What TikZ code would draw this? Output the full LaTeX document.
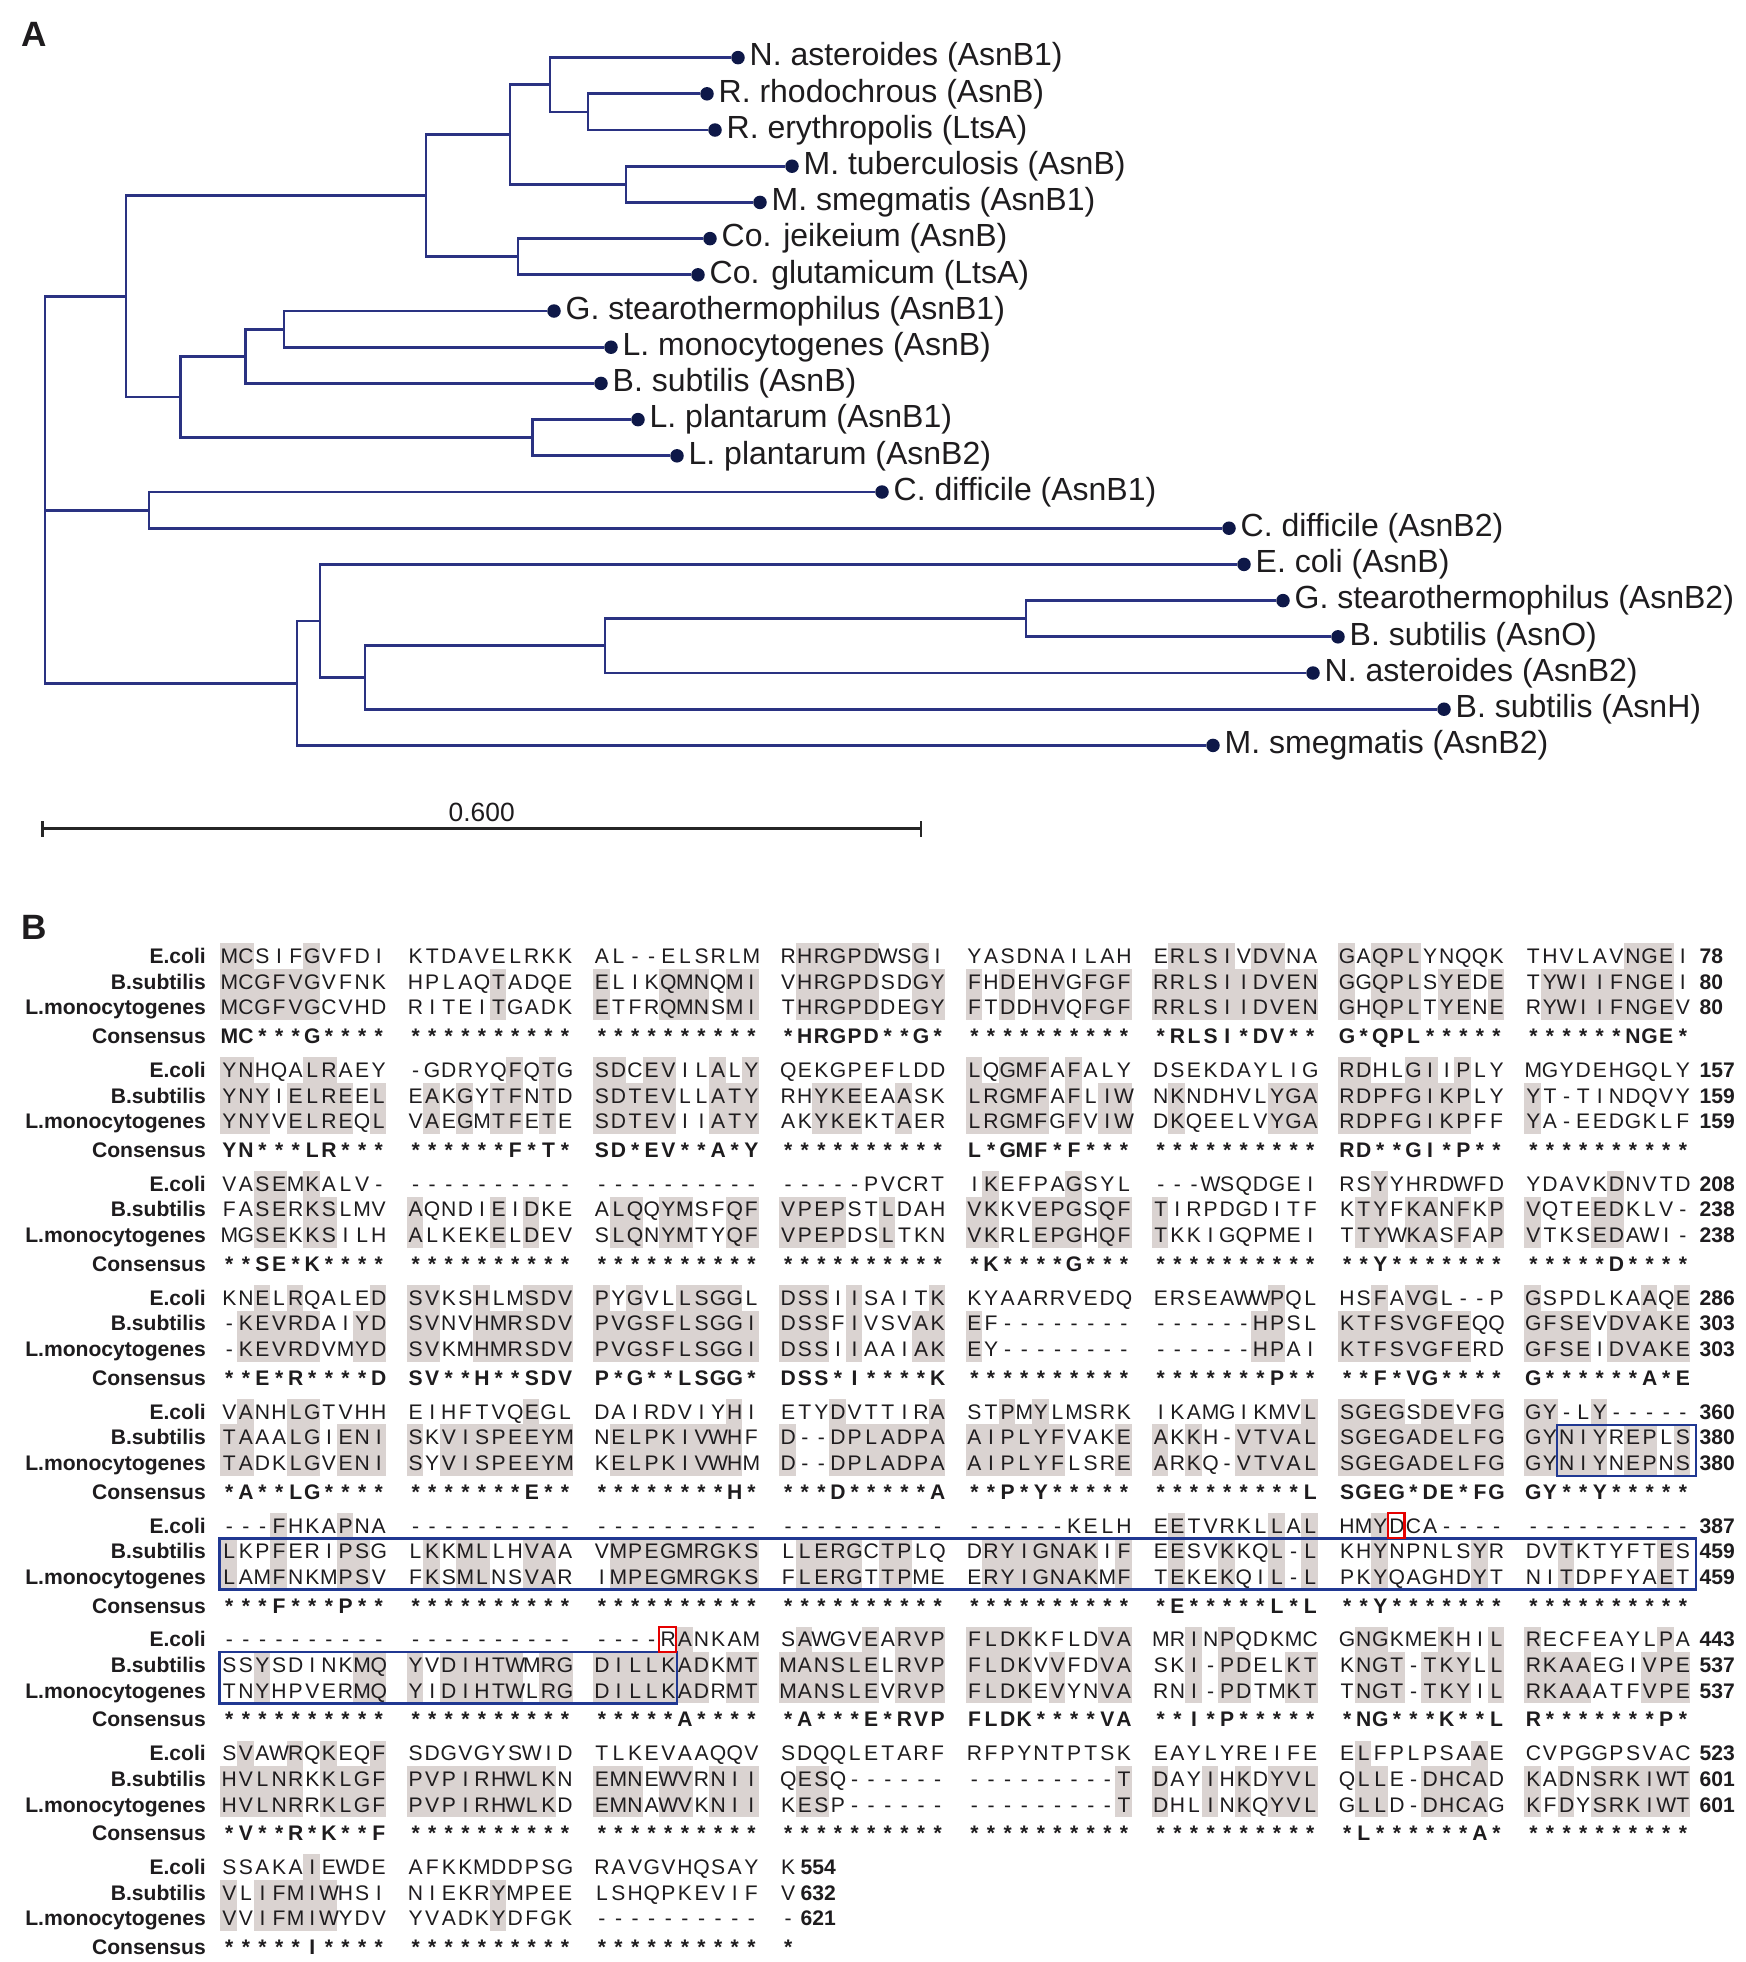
\documentclass[tikz,border=0pt]{standalone}
\usepackage{fontspec}
\setmainfont{Liberation Sans}
\usepackage{graphicx}
\usetikzlibrary{positioning}

\definecolor{treeblue}{RGB}{42,50,130}
\definecolor{dotblue}{RGB}{14,24,72}
\definecolor{shadegrey}{RGB}{218,211,209}
\definecolor{boxblue}{RGB}{32,56,146}
\definecolor{ink}{RGB}{30,28,30}

\newlength\respitch
\setlength\respitch{0.166cm}

% one residue per fixed column
\def\spreadaux#1#2\endspread{\makebox[\respitch][c]{#1}%
  \if\relax\detokenize{#2}\relax\let\spnext\relax
  \else\def\spnext{\spreadaux#2\endspread}\fi\spnext}
\newcommand\spreadseq[1]{\spreadaux#1\endspread}

% grey columns: B/L identical, E.coli too when all three agree
\def\dashtok{-}
\def\septok{,}
\def\shadeaux#1#2\endA#3#4\endB#5#6\endC{%
  \def\chE{#1}\def\chB{#3}\def\chL{#5}%
  \ifx\chE\septok
    \pgfmathsetmacro\shx{\shx+20.3}%
  \else
    \ifx\chB\chL\ifx\chB\dashtok\else
      \fill[shadegrey] (\shx,\shy+12.8) rectangle ++(16.6,51.2);
      \ifx\chE\chB\fill[shadegrey] (\shx,\shy-12.8) rectangle ++(16.6,25.6);\fi
    \fi\fi
    \pgfmathsetmacro\shx{\shx+16.6}%
  \fi
  \if\relax\detokenize{#2}\relax\let\shnext\relax
  \else\def\shnext{\shadeaux#2\endA#4\endB#6\endC}\fi\shnext}

\newcommand\seqrow[4]{%
  \foreach \grp [count=\g from 0] in {#3}{%
    \node[#2] (#4\g) at ({220.3+186.3*\g},#1) {\expandafter\spreadseq\expandafter{\grp}};}}

\newcommand\alnblock[9]{%
  \pgfmathsetmacro\by{956+113.9*#1}%
  \def\shx{220.3}\let\shy\by
  \shadeaux#2\endA#3\endB#4\endC
  \seqrow{\by}{res}{#2}{e#1g}
  \seqrow{\by+25.6}{res}{#3}{b#1g}
  \seqrow{\by+51.2}{res}{#4}{l#1g}
  \seqrow{\by+80}{cons}{#5}{c#1g}
  \node[seqname] (ename#1) at (206.5,\by) {E.coli};
  \node[seqname] (bname#1) at (206.5,\by+25.6) {B.subtilis};
  \node[seqname] (lname#1) at (206.5,\by+51.2) {L.monocytogenes};
  \node[seqname] (cname#1) at (206.5,\by+80) {Consensus};
  \node[seqnum] (enum#1) at (#9,\by) {#6};
  \node[seqnum] (bnum#1) at (#9,\by+25.6) {#7};
  \node[seqnum] (lnum#1) at (#9,\by+51.2) {#8};
}

\begin{document}
\begin{tikzpicture}[x=0.01cm, y=-0.01cm,
  branch/.style={treeblue, line width=0.8pt},
  leaf/.style={circle, fill=dotblue, inner sep=0pt, minimum size=0.135cm},
  leaflab/.style={inner sep=0pt, text=ink, font=\fontsize{9.1}{10}\selectfont},
  res/.style={anchor=west, inner sep=0pt, text=ink, font=\fontsize{6}{7}\selectfont, text height=4.3pt, text depth=0pt},
  cons/.style={res, font=\fontsize{6}{7}\selectfont\bfseries},
  seqname/.style={anchor=east, inner sep=0pt, text=ink, font=\fontsize{6}{7}\selectfont\bfseries, text height=4.3pt, text depth=0pt},
  seqnum/.style={anchor=west, inner sep=0pt, text=ink, font=\fontsize{6}{7}\selectfont\bfseries, text height=4.3pt, text depth=0pt},
  panel/.style={inner sep=0pt, text=ink, font=\fontsize{10}{12}\selectfont\bfseries},
  scalebar/.style={black!85, line width=0.85pt},
  scalelab/.style={inner sep=0pt, text=ink, font=\fontsize{7.5}{9}\selectfont},
  bluebox/.style={draw=boxblue, line width=0.7pt},
  redbox/.style={draw=red!90!black, line width=0.6pt}]

\fill[white] (0,0) rectangle (1746,1962);
\useasboundingbox (0,0) rectangle (1746,1962);

\node[panel] (pa) at (34,34) {A};
\node[panel] (pb) at (34,927) {B};

\coordinate (root) at (45,510.1);
\coordinate (top) at (126,296.3);
\coordinate (cdf) at (149,510.1);
\coordinate (bot) at (297,683.2);
\coordinate (act) at (426,195.6);
\coordinate (firm) at (180.5,397);
\coordinate (nrm) at (510,134.5);
\coordinate (nrh) at (550,84.75);
\coordinate (nrr) at (588,111.9);
\coordinate (nmy) at (626,184.3);
\coordinate (nco) at (518,256.7);
\coordinate (nbs) at (245.5,356.25);
\coordinate (ngl) at (284,329.1);
\coordinate (nlp) at (532.5,437.7);
\coordinate (nec) at (320,621);
\coordinate (nah) at (365,677.5);
\coordinate (nao) at (605,645.85);
\coordinate (ngs) at (1026,618.7);

\node[leaf] (nast1) at (738,57.6) {};
\node[leaf] (rrho) at (707,93.8) {};
\node[leaf] (rery) at (715,130) {};
\node[leaf] (mtub) at (792,166.2) {};
\node[leaf] (msmg1) at (760,202.4) {};
\node[leaf] (cjei) at (710,238.6) {};
\node[leaf] (cglu) at (698,274.8) {};
\node[leaf] (gst1) at (554,311) {};
\node[leaf] (lmon) at (611,347.2) {};
\node[leaf] (bsubB) at (601,383.4) {};
\node[leaf] (lpl1) at (638,419.6) {};
\node[leaf] (lpl2) at (677,455.8) {};
\node[leaf] (cdif1) at (882,492) {};
\node[leaf] (cdif2) at (1229,528.2) {};
\node[leaf] (ecol) at (1244,564.4) {};
\node[leaf] (gst2) at (1283,600.6) {};
\node[leaf] (bsubO) at (1338,636.8) {};
\node[leaf] (nast2) at (1313,673) {};
\node[leaf] (bsubH) at (1444,709.2) {};
\node[leaf] (msmg2) at (1213,745.4) {};

\node[leaflab, right=1pt of nast1] (tnast1) {N. asteroides (AsnB1)};
\node[leaflab, right=1pt of rrho] (trrho) {R. rhodochrous (AsnB)};
\node[leaflab, right=1pt of rery] (trery) {R. erythropolis (LtsA)};
\node[leaflab, right=1pt of mtub] (tmtub) {M. tuberculosis (AsnB)};
\node[leaflab, right=1pt of msmg1] (tmsmg1) {M. smegmatis (AsnB1)};
\node[leaflab, right=1pt of cjei] (tcjei) {Co. jeikeium (AsnB)};
\node[leaflab, right=1pt of cglu] (tcglu) {Co. glutamicum (LtsA)};
\node[leaflab, right=1pt of gst1] (tgst1) {G. stearothermophilus (AsnB1)};
\node[leaflab, right=1pt of lmon] (tlmon) {L. monocytogenes (AsnB)};
\node[leaflab, right=1pt of bsubB] (tbsubB) {B. subtilis (AsnB)};
\node[leaflab, right=1pt of lpl1] (tlpl1) {L. plantarum (AsnB1)};
\node[leaflab, right=1pt of lpl2] (tlpl2) {L. plantarum (AsnB2)};
\node[leaflab, right=1pt of cdif1] (tcdif1) {C. difficile (AsnB1)};
\node[leaflab, right=1pt of cdif2] (tcdif2) {C. difficile (AsnB2)};
\node[leaflab, right=1pt of ecol] (tecol) {E. coli (AsnB)};
\node[leaflab, right=1pt of gst2] (tgst2) {G. stearothermophilus (AsnB2)};
\node[leaflab, right=1pt of bsubO] (tbsubO) {B. subtilis (AsnO)};
\node[leaflab, right=1pt of nast2] (tnast2) {N. asteroides (AsnB2)};
\node[leaflab, right=1pt of bsubH] (tbsubH) {B. subtilis (AsnH)};
\node[leaflab, right=1pt of msmg2] (tmsmg2) {M. smegmatis (AsnB2)};

\draw[branch] (root) |- (top);
\draw[branch] (root) |- (cdf);
\draw[branch] (root) |- (bot);
\draw[branch] (top) |- (act);
\draw[branch] (top) |- (firm);
\draw[branch] (act) |- (nrm);
\draw[branch] (act) |- (nco);
\draw[branch] (nrm) |- (nrh);
\draw[branch] (nrm) |- (nmy);
\draw[branch] (nrh) |- (nast1);
\draw[branch] (nrh) |- (nrr);
\draw[branch] (nrr) |- (rrho);
\draw[branch] (nrr) |- (rery);
\draw[branch] (nmy) |- (mtub);
\draw[branch] (nmy) |- (msmg1);
\draw[branch] (nco) |- (cjei);
\draw[branch] (nco) |- (cglu);
\draw[branch] (firm) |- (nbs);
\draw[branch] (firm) |- (nlp);
\draw[branch] (nbs) |- (ngl);
\draw[branch] (nbs) |- (bsubB);
\draw[branch] (ngl) |- (gst1);
\draw[branch] (ngl) |- (lmon);
\draw[branch] (nlp) |- (lpl1);
\draw[branch] (nlp) |- (lpl2);
\draw[branch] (cdf) |- (cdif1);
\draw[branch] (cdf) |- (cdif2);
\draw[branch] (bot) |- (nec);
\draw[branch] (bot) |- (msmg2);
\draw[branch] (nec) |- (ecol);
\draw[branch] (nec) |- (nah);
\draw[branch] (nah) |- (nao);
\draw[branch] (nah) |- (bsubH);
\draw[branch] (nao) |- (ngs);
\draw[branch] (nao) |- (nast2);
\draw[branch] (ngs) |- (gst2);
\draw[branch] (ngs) |- (bsubO);

\coordinate (sbl) at (42.5,828.5);
\coordinate (sbr) at (921,828.5);
\draw[scalebar] (sbl) -- (sbr);
\draw[scalebar] ([yshift=-0.08cm]sbl) -- ([yshift=0.08cm]sbl);
\draw[scalebar] ([yshift=-0.08cm]sbr) -- ([yshift=0.08cm]sbr);
\node[scalelab, anchor=south] (sbtxt) at (481.75,822) {0.600};

\alnblock{0}
 {MCSIFGVFDI,KTDAVELRKK,AL--ELSRLM,RHRGPDWSGI,YASDNAILAH,ERLSIVDVNA,GAQPLYNQQK,THVLAVNGEI}
 {MCGFVGVFNK,HPLAQTADQE,ELIKQMNQMI,VHRGPDSDGY,FHDEHVGFGF,RRLSIIDVEN,GGQPLSYEDE,TYWIIFNGEI}
 {MCGFVGCVHD,RITEITGADK,ETFRQMNSMI,THRGPDDEGY,FTDDHVQFGF,RRLSIIDVEN,GHQPLTYENE,RYWIIFNGEV}
 {MC***G****,**********,**********,*HRGPD**G*,**********,*RLSI*DV**,G*QPL*****,******NGE*}
 {78}{80}{80}{1699}
\alnblock{1}
 {YNHQALRAEY,-GDRYQFQTG,SDCEVILALY,QEKGPEFLDD,LQGMFAFALY,DSEKDAYLIG,RDHLGIIPLY,MGYDEHGQLY}
 {YNYIELREEL,EAKGYTFNTD,SDTEVLLATY,RHYKEEAASK,LRGMFAFLIW,NKNDHVLYGA,RDPFGIKPLY,YT-TINDQVY}
 {YNYVELREQL,VAEGMTFETE,SDTEVIIATY,AKYKEKTAER,LRGMFGFVIW,DKQEELVYGA,RDPFGIKPFF,YA-EEDGKLF}
 {YN***LR***,******F*T*,SD*EV**A*Y,**********,L*GMF*F***,**********,RD**GI*P**,**********}
 {157}{159}{159}{1699}
\alnblock{2}
 {VASEMKALV-,----------,----------,-----PVCRT,IKEFPAGSYL,---WSQDGEI,RSYYHRDWFD,YDAVKDNVTD}
 {FASERKSLMV,AQNDIEIDKE,ALQQYMSFQF,VPEPSTLDAH,VKKVEPGSQF,TIRPDGDITF,KTYFKANFKP,VQTEEDKLV-}
 {MGSEKKSILH,ALKEKELDEV,SLQNYMTYQF,VPEPDSLTKN,VKRLEPGHQF,TKKIGQPMEI,TTYWKASFAP,VTKSEDAWI-}
 {**SE*K****,**********,**********,**********,*K****G***,**********,**Y*******,*****D****}
 {208}{238}{238}{1699}
\alnblock{3}
 {KNELRQALED,SVKSHLMSDV,PYGVLLSGGL,DSSIISAITK,KYAARRVEDQ,ERSEAWWPQL,HSFAVGL--P,GSPDLKAAQE}
 {-KEVRDAIYD,SVNVHMRSDV,PVGSFLSGGI,DSSFIVSVAK,EF--------,------HPSL,KTFSVGFEQQ,GFSEVDVAKE}
 {-KEVRDVMYD,SVKMHMRSDV,PVGSFLSGGI,DSSIIAAIAK,EY--------,------HPAI,KTFSVGFERD,GFSEIDVAKE}
 {**E*R****D,SV**H**SDV,P*G**LSGG*,DSS*I****K,**********,*******P**,**F*VG****,G******A*E}
 {286}{303}{303}{1699}
\alnblock{4}
 {VANHLGTVHH,EIHFTVQEGL,DAIRDVIYHI,ETYDVTTIRA,STPMYLMSRK,IKAMGIKMVL,SGEGSDEVFG,GY-LY-----}
 {TAAALGIENI,SKVISPEEYM,NELPKIVWHF,D--DPLADPA,AIPLYFVAKE,AKKH-VTVAL,SGEGADELFG,GYNIYREPLS}
 {TADKLGVENI,SYVISPEEYM,KELPKIVWHM,D--DPLADPA,AIPLYFLSRE,ARKQ-VTVAL,SGEGADELFG,GYNIYNEPNS}
 {*A**LG****,*******E**,********H*,***D*****A,**P*Y*****,*********L,SGEG*DE*FG,GY**Y*****}
 {360}{380}{380}{1699}
\alnblock{5}
 {---FHKAPNA,----------,----------,----------,------KELH,EETVRKLLAL,HMYDCA----,----------}
 {LKPFERIPSG,LKKMLLHVAA,VMPEGMRGKS,LLERGCTPLQ,DRYIGNAKIF,EESVKKQL-L,KHYNPNLSYR,DVTKTYFTES}
 {LAMFNKMPSV,FKSMLNSVAR,IMPEGMRGKS,FLERGTTPME,ERYIGNAKMF,TEKEKQIL-L,PKYQAGHDYT,NITDPFYAET}
 {***F***P**,**********,**********,**********,**********,*E*****L*L,**Y*******,**********}
 {387}{459}{459}{1699}
\alnblock{6}
 {----------,----------,----RANKAM,SAWGVEARVP,FLDKKFLDVA,MRINPQDKMC,GNGKMEKHIL,RECFEAYLPA}
 {SSYSDINKMQ,YVDIHTWMRG,DILLKADKMT,MANSLELRVP,FLDKVVFDVA,SKI-PDELKT,KNGT-TKYLL,RKAAEGIVPE}
 {TNYHPVERMQ,YIDIHTWLRG,DILLKADRMT,MANSLEVRVP,FLDKEVYNVA,RNI-PDTMKT,TNGT-TKYIL,RKAAATFVPE}
 {**********,**********,*****A****,*A***E*RVP,FLDK****VA,**I*P*****,*NG***K**L,R*******P*}
 {443}{537}{537}{1699}
\alnblock{7}
 {SVAWRQKEQF,SDGVGYSWID,TLKEVAAQQV,SDQQLETARF,RFPYNTPTSK,EAYLYREIFE,ELFPLPSAAE,CVPGGPSVAC}
 {HVLNRKKLGF,PVPIRHWLKN,EMNEWVRNII,QESQ------,---------T,DAYIHKDYVL,QLLE-DHCAD,KADNSRKIWT}
 {HVLNRRKLGF,PVPIRHWLKD,EMNAWVKNII,KESP------,---------T,DHLINKQYVL,GLLD-DHCAG,KFDYSRKIWT}
 {*V**R*K**F,**********,**********,**********,**********,**********,*L******A*,**********}
 {523}{601}{601}{1699}
\alnblock{8}
 {SSAKAIEWDE,AFKKMDDPSG,RAVGVHQSAY,K}
 {VLIFMIWHSI,NIEKRYMPEE,LSHQPKEVIF,V}
 {VVIFMIWYDV,YVADKYDFGK,----------,-}
 {*****I****,**********,**********,*}
 {554}{632}{621}{800}

\draw[bluebox] (1557,1424.8) rectangle (1696,1476);
\draw[bluebox] (219.5,1538.3) rectangle (1696,1589.5);
\draw[bluebox] (219.5,1652.2) rectangle (677,1703.4);
\draw[redbox] (1387.9,1512.7) rectangle (1404.5,1538.3);
\draw[redbox] (659.3,1626.6) rectangle (675.9,1652.2);

\end{tikzpicture}
\end{document}
